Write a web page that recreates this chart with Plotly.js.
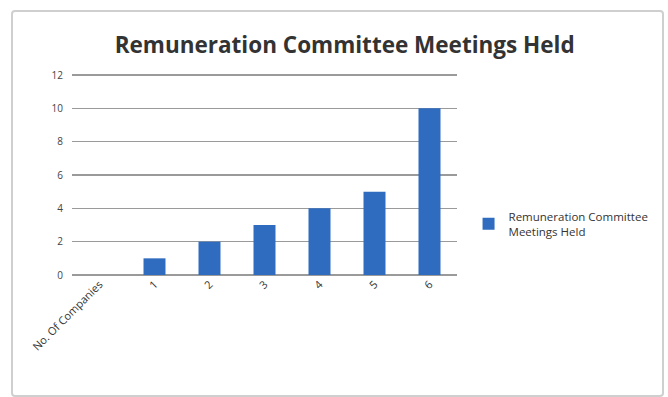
<!DOCTYPE html>
<html>
<head>
<meta charset="utf-8">
<script src="https://cdn.plot.ly/plotly-3.0.1.min.js"></script>
<style>
html,body{margin:0;padding:0;background:#fff;}
#wrap{position:relative;width:668px;height:397px;}
#chart{position:absolute;left:0;top:0;width:668px;height:397px;}
#frame{position:absolute;left:11px;top:10px;width:649px;height:383px;border:2px solid #cfcfcf;border-radius:4px;pointer-events:none;}
</style>
</head>
<body>
<div id="wrap"><div id="chart"></div><div id="frame"></div></div>
<script>
const categories = ["No. Of Companies", "1", "2", "3", "4", "5", "6"];
const meetingsHeld = [0, 1, 2, 3, 4, 5, 10];
const seriesName = "Remuneration Committee<br>Meetings Held";
const yTicks = [0, 2, 4, 6, 8, 10, 12];

Plotly.newPlot('chart', [{
  type: 'bar',
  x: categories,
  y: meetingsHeld,
  name: seriesName,
  marker: {color: '#2f6cc0'},
  showlegend: true
}], {
  width: 668, height: 397,
  margin: {l: 72, r: 211, t: 70, b: 122},
  paper_bgcolor: '#fff', plot_bgcolor: '#fff',
  bargap: 0.6,
  title: {text: 'Remuneration Committee Meetings Held', x: 0.516, xanchor: 'center', y: 0.887, yanchor: 'middle',
          font: {family: 'Open Sans', size: 22.5, color: '#333', weight: 'bold'}},
  xaxis: {type: 'category', tickangle: -45, tickfont: {family: 'Open Sans', size: 11, color: '#333'},
          showgrid: false, showline: false, ticks: '', ticklen: 0},
  yaxis: {range: [0, 12.3], tickvals: yTicks, ticktext: yTicks.map(String), showgrid: true, gridcolor: '#9a9a9a', gridwidth: 1.5,
          zeroline: true, zerolinecolor: '#9a9a9a', zerolinewidth: 1.5, ticklabelstandoff: 8,
          tickfont: {family: 'Open Sans', size: 10, color: '#444'}, ticks: '', ticklen: 0},
  legend: {x: 1.03, y: 0.25, xanchor: 'left', yanchor: 'middle', font: {family: 'Open Sans', size: 11.5, color: '#333'},
           bgcolor: 'rgba(0,0,0,0)', itemwidth: 30},
  showlegend: true
}, {displayModeBar: false, staticPlot: true});
</script>
</body>
</html>
